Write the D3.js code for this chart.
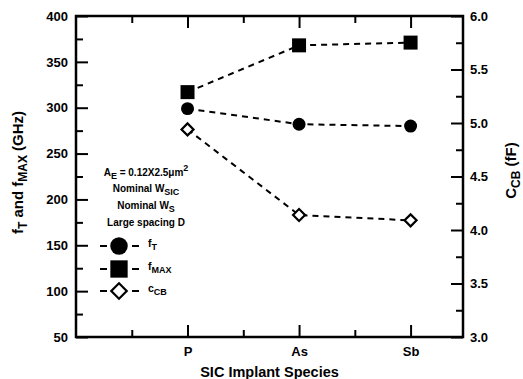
<!DOCTYPE html>
<html>
<head>
<meta charset="utf-8">
<script src="https://cdn.jsdelivr.net/npm/d3@7"></script>
<style>
  html, body { margin: 0; padding: 0; background: #fff; }
  svg { display: block; font-family: "Liberation Sans", Arial, Helvetica, sans-serif; font-weight: bold; }
</style>
</head>
<body>
<svg id="chart" width="523" height="379"></svg>
<script>
// Implant species on the x axis
const species = ["P", "As", "Sb"];
const speciesPos = [1, 2, 3];

// Cutoff frequencies (GHz), left axis
const fT = [299, 282, 280];
const fMAX = [317, 368, 371];

// Collector-base capacitance (fF), right axis
const cCB = [4.94, 4.14, 4.09];

// Axis ticks
const leftMajor = [50, 100, 150, 200, 250, 300, 350, 400];
const leftMinor = [75, 125, 175, 225, 275, 325, 375];
const rightMajor = [3.0, 3.5, 4.0, 4.5, 5.0, 5.5, 6.0];
const rightMinor = [3.25, 3.75, 4.25, 4.75, 5.25, 5.75];
const xMinor = [0.5, 1.5, 2.5];

const svg = d3.select("#chart");
const L = 76, R = 463, T = 16, B = 337;

const x = d3.scaleLinear().domain([0, 3.47]).range([L, R]);
const yL = d3.scaleLinear().domain([50, 400]).range([B, T]);
const yR = d3.scaleLinear().domain([3, 6]).range([B, T]);

const MAJ = 12, MIN = 7;

function styleAxis(g) {
  g.select(".domain").remove();
  g.selectAll(".tick line").attr("stroke", "#000").attr("stroke-width", 2);
  g.selectAll(".tick text").attr("fill", "#000").attr("font-size", 13).attr("font-weight", "bold");
}

// Left axis (inward ticks)
svg.append("g").attr("transform", `translate(${L},0)`)
  .call(d3.axisLeft(yL).tickValues(leftMajor).tickSize(-MAJ).tickPadding(8).tickFormat(d3.format("d")))
  .call(styleAxis);
svg.append("g").attr("transform", `translate(${L},0)`)
  .call(d3.axisLeft(yL).tickValues(leftMinor).tickSize(-MIN).tickFormat(""))
  .call(styleAxis);

// Right axis
svg.append("g").attr("transform", `translate(${R},0)`)
  .call(d3.axisRight(yR).tickValues(rightMajor).tickSize(-MAJ).tickPadding(7).tickFormat(d3.format(".1f")))
  .call(styleAxis);
svg.append("g").attr("transform", `translate(${R},0)`)
  .call(d3.axisRight(yR).tickValues(rightMinor).tickSize(-MIN).tickFormat(""))
  .call(styleAxis);

// Bottom axis
svg.append("g").attr("transform", `translate(0,${B})`)
  .call(d3.axisBottom(x).tickValues(speciesPos).tickSize(-MAJ).tickPadding(10)
    .tickFormat((d, i) => species[i]))
  .call(styleAxis);
svg.append("g").attr("transform", `translate(0,${B})`)
  .call(d3.axisBottom(x).tickValues(xMinor).tickSize(-MIN).tickFormat(""))
  .call(styleAxis);

// Top axis (ticks only)
svg.append("g").attr("transform", `translate(0,${T})`)
  .call(d3.axisTop(x).tickValues(speciesPos).tickSize(-MAJ).tickFormat(""))
  .call(styleAxis);
svg.append("g").attr("transform", `translate(0,${T})`)
  .call(d3.axisTop(x).tickValues(xMinor).tickSize(-MIN).tickFormat(""))
  .call(styleAxis);

// Frame
svg.append("rect").attr("x", L).attr("y", T).attr("width", R - L).attr("height", B - T)
  .attr("fill", "none").attr("stroke", "#000").attr("stroke-width", 2.5);

// Series lines
const dash = "6,5";
function seriesLine(vals, scale) {
  const line = d3.line().x((d, i) => x(speciesPos[i])).y(d => scale(d));
  svg.append("path").attr("d", line(vals)).attr("fill", "none")
    .attr("stroke", "#000").attr("stroke-width", 2).attr("stroke-dasharray", dash);
}
seriesLine(fMAX, yL);
seriesLine(fT, yL);
seriesLine(cCB, yR);

// Markers; the open diamond is a square turned by 45 degrees
const sym = (type, size) => d3.symbol().type(type).size(size)();
function markers(vals, scale, type, size, filled, rot) {
  svg.append("g").selectAll("path").data(vals).join("path")
    .attr("transform", (d, i) => `translate(${x(speciesPos[i])},${scale(d)}) rotate(${rot || 0})`)
    .attr("d", sym(type, size))
    .attr("fill", filled ? "#000" : "#fff")
    .attr("stroke", "#000").attr("stroke-width", filled ? 0 : 2.2);
}
markers(fMAX, yL, d3.symbolSquare, 196, true);
markers(fT, yL, d3.symbolCircle, 132, true);
markers(cCB, yR, d3.symbolSquare, 72, false, 45);

// Device annotation
const ann = svg.append("g").attr("font-size", 10).attr("text-anchor", "middle").attr("fill", "#000");
const a1 = ann.append("text").attr("x", 146).attr("y", 176);
a1.append("tspan").text("A");
a1.append("tspan").attr("font-size", 9).attr("dy", 3).text("E");
a1.append("tspan").attr("dy", -3).text(" = 0.12X2.5μm");
a1.append("tspan").attr("font-size", 9).attr("dy", -5).text("2");
const a2 = ann.append("text").attr("x", 146).attr("y", 192);
a2.append("tspan").text("Nominal W");
a2.append("tspan").attr("font-size", 9).attr("dy", 3).text("SIC");
const a3 = ann.append("text").attr("x", 146).attr("y", 209);
a3.append("tspan").text("Nominal W");
a3.append("tspan").attr("font-size", 9).attr("dy", 3).text("S");
ann.append("text").attr("x", 146).attr("y", 226).text("Large spacing D");

// Legend
const legendRows = [
  { main: "f", sub: "T", type: d3.symbolCircle, size: 240, filled: true, rot: 0, y: 246 },
  { main: "f", sub: "MAX", type: d3.symbolSquare, size: 300, filled: true, rot: 0, y: 269 },
  { main: "c", sub: "CB", type: d3.symbolSquare, size: 120, filled: false, rot: 45, y: 291 }
];
const lg = svg.append("g");
legendRows.forEach(r => {
  lg.append("line").attr("x1", 100).attr("x2", 107).attr("y1", r.y).attr("y2", r.y)
    .attr("stroke", "#000").attr("stroke-width", 2);
  lg.append("line").attr("x1", 132).attr("x2", 139).attr("y1", r.y).attr("y2", r.y)
    .attr("stroke", "#000").attr("stroke-width", 2);
  lg.append("path").attr("transform", `translate(119,${r.y}) rotate(${r.rot})`).attr("d", sym(r.type, r.size))
    .attr("fill", r.filled ? "#000" : "#fff").attr("stroke", "#000").attr("stroke-width", r.filled ? 0 : 2.2);
  const t = lg.append("text").attr("x", 148).attr("y", r.y + 1).attr("font-size", 10.5).attr("fill", "#000");
  t.append("tspan").text(r.main);
  t.append("tspan").attr("font-size", 9).attr("dy", 3).text(r.sub);
});

// Axis titles
svg.append("text").attr("x", (L + R) / 2).attr("y", 377).attr("text-anchor", "middle")
  .attr("font-size", 14.5).attr("fill", "#000").text("SIC Implant Species");

const lt = svg.append("text").attr("transform", `translate(23,${(T + B) / 2 - 4}) rotate(-90)`)
  .attr("text-anchor", "middle").attr("font-size", 15).attr("fill", "#000");
lt.append("tspan").text("f");
lt.append("tspan").attr("font-size", 12).attr("dy", 4).text("T");
lt.append("tspan").attr("dy", -4).text(" and f");
lt.append("tspan").attr("font-size", 12).attr("dy", 4).text("MAX");
lt.append("tspan").attr("dy", -4).text(" (GHz)");

const rt = svg.append("text").attr("transform", `translate(516,${(T + B) / 2 - 6}) rotate(-90)`)
  .attr("text-anchor", "middle").attr("font-size", 15).attr("fill", "#000");
rt.append("tspan").text("C");
rt.append("tspan").attr("font-size", 12).attr("dy", 4).text("CB");
rt.append("tspan").attr("dy", -4).text(" (fF)");
</script>
</body>
</html>
